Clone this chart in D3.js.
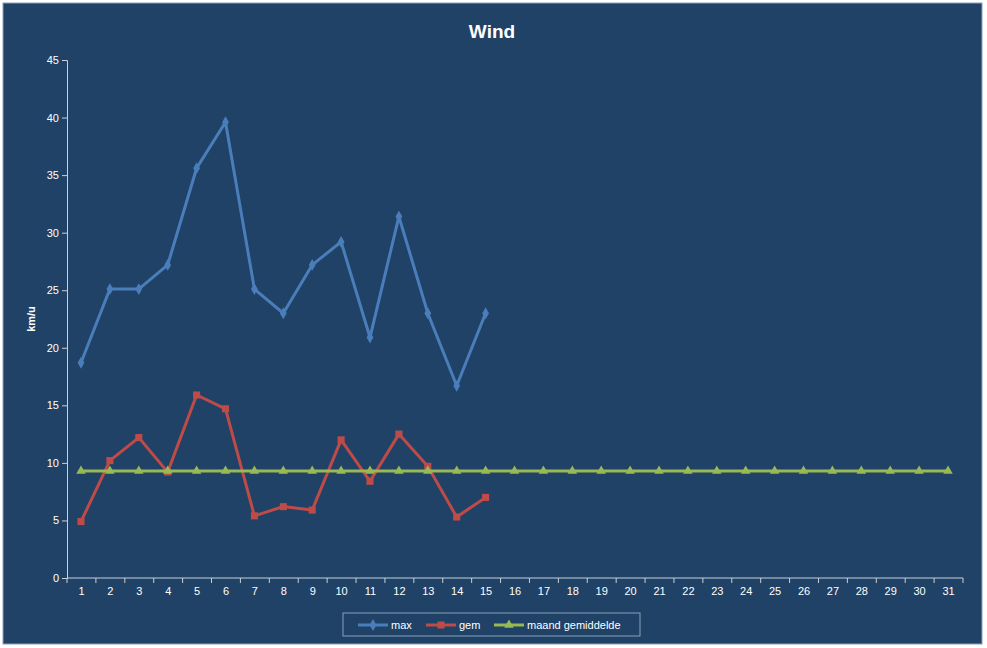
<!DOCTYPE html><html><head><meta charset="utf-8">
<script src="https://cdn.jsdelivr.net/npm/d3@7"></script>
<style>body{margin:0;background:#fff}svg{display:block}</style></head><body>
<svg id="c" width="987" height="648"></svg>
<script>
const days = d3.range(1,32);
const maxVals = [18.7,25.1,25.1,27.2,35.6,39.6,25.1,23.0,27.2,29.2,20.9,31.4,23.0,16.7,23.0];
const gemVals = [4.9,10.2,12.2,9.2,15.9,14.7,5.4,6.2,5.9,12.0,8.4,12.5,9.7,5.3,7.0];
const avgVal = 9.3;
const avgVals = days.map(()=>avgVal);
const yTicks = [0,5,10,15,20,25,30,35,40,45];

const svg = d3.select("#c");
svg.append("rect").attr("x",3).attr("y",3).attr("width",979).attr("height",641).attr("fill","#1F4266").attr("stroke","#8aa0b8");
const x = d3.scalePoint().domain(days).range([81,948]);
const y = d3.scaleLinear().domain([0,45]).range([578,60]);
svg.append("text").attr("x",492).attr("y",38).attr("text-anchor","middle").attr("fill","#fff").attr("font-family","Arial, Liberation Sans").attr("font-weight","bold").attr("font-size",19).text("Wind");
const gy = svg.append("g").attr("transform","translate(67,0)").call(d3.axisLeft(y).tickValues(yTicks).tickSize(5));
const gx = svg.append("g").attr("transform","translate(0,578)").call(d3.axisBottom(x).tickSize(0).tickPadding(9));
gx.select(".domain").attr("d","M67,0H963");
svg.selectAll(".domain").attr("stroke","#c8d0da");
svg.selectAll(".tick line").attr("stroke","#c8d0da");
svg.selectAll(".tick text").attr("fill","#fff").attr("font-family","Arial, Liberation Sans").attr("font-size",11);
// x tick marks between categories
const step = x.step();
svg.append("g").selectAll("line").data(d3.range(0,32)).join("line")
 .attr("x1",d=>67+d*(896/31)).attr("x2",d=>67+d*(896/31)).attr("y1",578).attr("y2",583).attr("stroke","#c8d0da");
svg.append("text").attr("transform","translate(35,319) rotate(-90)").attr("text-anchor","middle").attr("fill","#fff").attr("font-family","Arial, Liberation Sans").attr("font-weight","bold").attr("font-size",11).text("km/u");

const line = d3.line().x((d,i)=>x(i+1)).y(d=>y(d));
const series = [
 {vals:maxVals,color:"#4A7EBB",shape:"diamond",name:"max"},
 {vals:gemVals,color:"#BE4B48",shape:"square",name:"gem"},
 {vals:avgVals,color:"#98B954",shape:"triangle",name:"maand gemiddelde"}];
const sym = {diamond:d3.symbolDiamond,square:d3.symbolSquare,triangle:d3.symbolTriangle};
const size = {diamond:40,square:50,triangle:40};
series.forEach(s=>{
  svg.append("path").attr("d",line(s.vals)).attr("fill","none").attr("stroke",s.color).attr("stroke-width",3);
  svg.append("g").selectAll("path").data(s.vals).join("path")
   .attr("transform",(d,i)=>`translate(${x(i+1)},${y(d)})`).attr("d",d3.symbol(sym[s.shape],size[s.shape])).attr("fill",s.color);
});
// legend
svg.append("rect").attr("x",343).attr("y",613).attr("width",297).attr("height",23).attr("fill","#1F4266").attr("stroke","#8aa0b8");
const lx=[358,426,494];
series.forEach((s,i)=>{
  const g=svg.append("g").attr("transform",`translate(${lx[i]},625)`);
  g.append("line").attr("x1",0).attr("x2",30).attr("stroke",s.color).attr("stroke-width",3);
  g.append("path").attr("transform","translate(15,0)").attr("d",d3.symbol(sym[s.shape],size[s.shape])).attr("fill",s.color);
  g.append("text").attr("x",33).attr("y",4).attr("fill","#fff").attr("font-family","Arial, Liberation Sans").attr("font-size",11).text(s.name);
});
</script></body></html>
